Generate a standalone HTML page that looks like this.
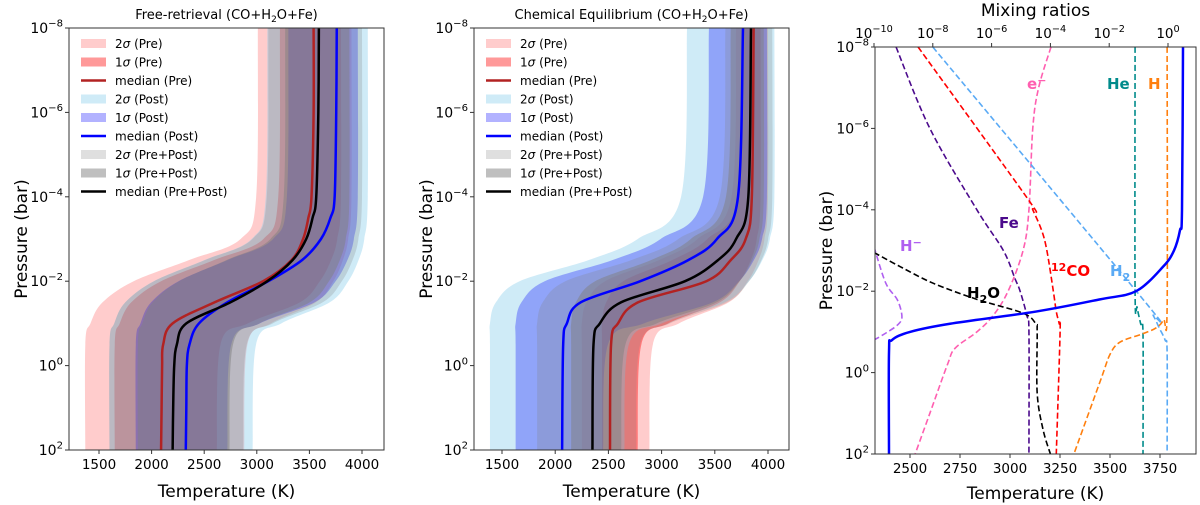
<!DOCTYPE html>
<html><head><meta charset="utf-8"><style>
html,body{margin:0;padding:0;background:#fff;}
svg{display:block;font-family:"DejaVu Sans","Liberation Sans",sans-serif;}
</style></head><body>
<svg id="chart" width="1200" height="505" viewBox="0 0 1200 505" xmlns="http://www.w3.org/2000/svg"></svg>
<script>
// ---------- Panel 1 data (Free-retrieval) ----------
const bandP = [-8,-4,-3,-2.5,-2,-1.5,-1,-0.5,2];
const p1Pre2Lo = [3010,2994,2846,2354,1829,1534,1419,1370,1370];
const p1Pre2Hi = [3900,3900,3869,3818,3727,3563,3135,2911,2880];
const p1Pre1Lo = [3220,3204,3063,2592,2090,1807,1697,1650,1650];
const p1Pre1Hi = [3800,3800,3765,3706,3599,3411,2915,2655,2620];
const p1Post2Lo = [3100,3085,2950,2500,2020,1750,1645,1600,1600];
const p1Post2Hi = [4055,4055,4022,3967,3869,3694,3234,2993,2960];
const p1Post1Lo = [3300,3286,3155,2720,2256,1995,1894,1850,1850];
const p1Post1Hi = [3960,3960,3923,3861,3749,3551,3030,2757,2720];
const p1PP2Lo = [3110,3095,2959,2506,2023,1751,1645,1600,1600];
const p1PP2Hi = [4000,4000,3966,3910,3808,3627,3153,2904,2870];
const p1PP1Lo = [3270,3256,3130,2710,2262,2010,1912,1870,1870];
const p1PP1Hi = [3880,3880,3846,3789,3686,3504,3025,2774,2740];
const medP1 = [-8,-6,-4,-3.5,-3,-2.5,-2,-1.5,-1,-0.5,0,1,2];
const p1MedPre = [3540,3540,3520,3490,3440,3330,3060,2600,2200,2110,2100,2095,2090];
const p1MedPost = [3760,3755,3740,3700,3610,3430,3110,2720,2450,2360,2335,2330,2325];
const p1MedPP = [3590,3585,3565,3530,3470,3340,3100,2750,2330,2240,2215,2205,2200];
// ---------- Panel 2 data (Chemical equilibrium) ----------
const p2Pre2Lo = [3700,3657,3338,2975,2468,2294,2250,2250,2250];
const p2Pre2Hi = [4000,4000,3967,3911,3810,3632,3164,2918,2885];
const p2Pre1Lo = [3760,3720,3430,3100,2638,2480,2440,2440,2440];
const p2Pre1Hi = [3930,3930,3895,3838,3734,3549,3064,2810,2775];
const p2Post2Lo = [3239,3183,2776,2313,1665,1443,1387,1387,1387];
const p2Post2Hi = [4060,4060,4018,3947,3820,3595,3003,2692,2650];
const p2Post1Lo = [3445,3390,2991,2537,1901,1683,1628,1628,1628];
const p2Post1Hi = [3990,3990,3944,3867,3728,3482,2835,2496,2450];
const p2PP2Lo = [3600,3547,3158,2715,2096,1883,1830,1830,1830];
const p2PP2Hi = [4040,4040,4002,3938,3822,3618,3080,2798,2760];
const p2PP1Lo = [3650,3605,3275,2900,2375,2195,2150,2150,2150];
const p2PP1Hi = [3960,3960,3920,3853,3732,3518,2955,2660,2620];
const medP2 = [-8,-4,-3,-2.5,-2,-1.5,-1,-0.5,2];
const p2MedPost = [3765,3718,3520,3250,2800,2240,2110,2075,2065];
const p2MedPP = [3840,3815,3700,3530,3220,2620,2420,2360,2350];
const p2MedPre = [3865,3848,3790,3650,3420,2780,2590,2525,2515];
// ---------- Panel 3 data ----------
const tpP = [-8,-4,-3.5,-3,-2.6,-2,-1.8,-1.5,-1.2,-1,-0.8,-0.5,2];
const tpT = [3865,3860,3850,3820,3765,3630,3450,3130,2700,2500,2410,2395,2395];
const feP = [-8,-6,-4,-3,-2.3,-2,-1.4,-1,2];
const feX = [-9.25,-8.1,-6.5,-5.6,-5.2,-5.03,-4.8,-4.73,-4.73];
const coP = [-8,-4.3,-4,-3.5,-3,-2,-1.5,-1.2,-1,2];
const coX = [-8.5,-4.8,-4.6,-4.3,-4.12,-3.9,-3.8,-3.7,-3.67,-3.8];
const h2P = [-8,-1.8,-1.4,-1.1,-0.8,-0.5,2];
const h2X = [-8,-0.85,-0.5,-0.3,-0.1,-0.03,-0.03];
const eP = [-8,-7,-6,-4,-3,-2,-1.4,-1,-0.6,-0.2,1,2];
const eX = [-3.98,-4.4,-4.6,-4.73,-4.93,-5.44,-5.95,-6.5,-7.24,-7.5,-8.1,-8.6];
const heP = [-8,-2,-1.6,-1.2,-0.95,2];
const heX = [-1.12,-1.12,-1.05,-0.93,-0.85,-0.85];
const hP = [-8,-1.6,-1.3,-1.1,-0.95,-0.75,-0.45,0.2,2];
const hX = [-0.03,-0.03,-0.15,-0.4,-0.88,-1.63,-1.97,-2.3,-3.2];
const h2oP = [-2.95,-2.6,-2.2,-1.8,-1.46,-1.2,-1,0.5,1.4,2];
const h2oX = [-10,-9.1,-8,-6.5,-4.93,-4.5,-4.45,-4.45,-4.25,-4.0];
const hmP = [-3.09,-2.2,-1.78,-1.37,-1.17,-0.97,-0.8];
const hmX = [-10,-9.6,-9.2,-9.05,-9.2,-9.6,-10];
const tTicks12 = [1500,2000,2500,3000,3500,4000];
const tTicks3 = [2500,2750,3000,3250,3500,3750];
const pTicks = [-8,-6,-4,-2,0,2];
const xTopTicks = [-10,-8,-6,-4,-2,0];

const NS = "http://www.w3.org/2000/svg";
const svg = document.getElementById('chart');
function el(tag, attrs, parent, text){
  const e = document.createElementNS(NS, tag);
  for (const k in attrs) e.setAttribute(k, attrs[k]);
  if (text !== undefined) e.textContent = text;
  (parent || svg).appendChild(e);
  return e;
}
function crPath(pts, move){
  let d = (move ? "M" : "L") + pts[0][0].toFixed(2) + "," + pts[0][1].toFixed(2);
  for (let i = 0; i < pts.length - 1; i++){
    const p0 = pts[Math.max(i-1,0)], p1 = pts[i], p2 = pts[i+1], p3 = pts[Math.min(i+2,pts.length-1)];
    const c1 = [p1[0] + (p2[0]-p0[0])/6, p1[1] + (p2[1]-p0[1])/6];
    const c2 = [p2[0] - (p3[0]-p1[0])/6, p2[1] - (p3[1]-p1[1])/6];
    d += "C" + c1[0].toFixed(2) + "," + c1[1].toFixed(2) + " " + c2[0].toFixed(2) + "," + c2[1].toFixed(2) + " " + p2[0].toFixed(2) + "," + p2[1].toFixed(2);
  }
  return d;
}
function supTen(parent, x, y, exp, anchor, size){
  const t = el('text', {x:x, y:y, 'text-anchor':anchor, 'font-size':size, fill:'#000'}, parent);
  const a = document.createElementNS(NS,'tspan'); a.textContent = '10'; t.appendChild(a);
  const b = document.createElementNS(NS,'tspan'); b.setAttribute('dy', -size*0.45); b.setAttribute('font-size', size*0.72);
  b.textContent = exp < 0 ? '\u2212' + (-exp) : String(exp); t.appendChild(b);
  return t;
}

function tpPanel(cfg){
  const g = el('g', {});
  
  
  const X = T => cfg.x0 + (T - cfg.t0) * cfg.sx;
  const Y = p => cfg.top + (p + 8) * cfg.sy;
  const clipId = cfg.name + '-clip';
  const cp = el('clipPath', {id: clipId}, g);
  el('rect', {x: cfg.left, y: cfg.top, width: cfg.right - cfg.left, height: cfg.bottom - cfg.top}, cp);
  const plot = el('g', {'clip-path': 'url(#' + clipId + ')'}, g);
  
  
  cfg.bands.forEach(b => {
    const lo = b.lo.map((T,i) => [X(T), Y(bandP[i])]);
    const hi = b.hi.map((T,i) => [X(T), Y(bandP[i])]).reverse();
    const path = el('path', {d: crPath(lo, true) + crPath(hi, false) + 'Z', fill: b.color, stroke: 'none'}, plot);
    
    
  });
  cfg.lines.forEach(l => {
    const pts = l.T.map((T,i) => [X(T), Y(l.P[i])]);
    const path = el('path', {d: crPath(pts, true), fill: 'none', stroke: l.color, 'stroke-width': 2.5}, plot);
    
    
  });
  const frame = el('rect', {x: cfg.left, y: cfg.top, width: cfg.right - cfg.left, height: cfg.bottom - cfg.top, fill: 'none', stroke: '#333', 'stroke-width': 1}, g);
  
  
  tTicks12.forEach(t => {
    el('line', {x1: X(t), x2: X(t), y1: cfg.bottom, y2: cfg.bottom + 4, stroke: '#333'}, g);
    const tl = el('text', {x: X(t), y: cfg.bottom + 19, 'text-anchor': 'middle', 'font-size': 13.5}, g, String(t));
    
    
  });
  pTicks.forEach(p => {
    el('line', {x1: cfg.left - 4, x2: cfg.left, y1: Y(p), y2: Y(p), stroke: '#333'}, g);
    const tl = supTen(g, cfg.left - 6, Y(p) + 5, p, 'end', 14);
    
    
  });
  const xt = el('text', {x: (cfg.left + cfg.right)/2, y: 497, 'text-anchor': 'middle', 'font-size': 17}, g, 'Temperature (K)');
  
  
  const yt = el('text', {x: 0, y: 0, 'text-anchor': 'middle', 'font-size': 17, transform: 'translate(' + cfg.ylabX + ',' + ((cfg.top + cfg.bottom)/2) + ') rotate(-90)'}, g, 'Pressure (bar)');
  
  
  const ti = el('text', {x: (cfg.left + cfg.right)/2, y: 19, 'text-anchor': 'middle', 'font-size': 13}, g);
  
  
  const s1 = document.createElementNS(NS,'tspan'); s1.textContent = cfg.title + ' (CO+H'; ti.appendChild(s1);
  const s2 = document.createElementNS(NS,'tspan'); s2.setAttribute('font-size', 9); s2.setAttribute('dy', 3); s2.textContent = '2'; ti.appendChild(s2);
  const s3 = document.createElementNS(NS,'tspan'); s3.setAttribute('dy', -3); s3.textContent = 'O+Fe)'; ti.appendChild(s3);
  const lg = el('g', {}, g);
  
  
  const entries = [
    ['2σ (Pre)', 'rgba(255,0,0,0.2)', 'patch'], ['1σ (Pre)', 'rgba(255,0,0,0.4)', 'patch'], ['median (Pre)', '#b22222', 'line'],
    ['2σ (Post)', 'rgba(135,206,235,0.4)', 'patch'], ['1σ (Post)', 'rgba(0,0,255,0.3)', 'patch'], ['median (Post)', '#0000ff', 'line'],
    ['2σ (Pre+Post)', 'rgba(128,128,128,0.25)', 'patch'], ['1σ (Pre+Post)', 'rgba(128,128,128,0.5)', 'patch'], ['median (Pre+Post)', '#000', 'line']];
  entries.forEach((e, i) => {
    const yy = 43.5 + i * 18.5;
    const eg = el('g', {}, lg);
    
    
    if (e[2] === 'patch') el('rect', {x: cfg.left + 12, y: yy - 4.5, width: 25, height: 9, fill: e[1]}, eg);
    else el('line', {x1: cfg.left + 12, x2: cfg.left + 37, y1: yy, y2: yy, stroke: e[1], 'stroke-width': 2.5}, eg);
    const parts = e[0].split('σ');
    const tx = el('text', {x: cfg.left + 46, y: yy + 4.5, 'font-size': 12}, eg);
    if (parts.length > 1){
      const a = document.createElementNS(NS,'tspan'); a.textContent = parts[0]; tx.appendChild(a);
      const b = document.createElementNS(NS,'tspan'); b.setAttribute('font-style','italic'); b.textContent = 'σ'; tx.appendChild(b);
      const c = document.createElementNS(NS,'tspan'); c.textContent = parts[1]; tx.appendChild(c);
    } else tx.textContent = e[0];
  });
}

const bandColors = ['rgba(255,0,0,0.2)','rgba(255,0,0,0.4)','rgba(135,206,235,0.4)','rgba(0,0,255,0.3)','rgba(128,128,128,0.25)','rgba(128,128,128,0.5)'];
tpPanel({name: 'panel-free-retrieval', title: 'Free-retrieval', left: 69, right: 384, top: 28, bottom: 450, x0: 99, t0: 1500, sx: 0.1052, sy: 42.2, ylabX: 27,
  bands: [
    {id:'band-2sigma-pre', lo:p1Pre2Lo, hi:p1Pre2Hi, color:bandColors[0]},
    {id:'band-1sigma-pre', lo:p1Pre1Lo, hi:p1Pre1Hi, color:bandColors[1]},
    {id:'band-2sigma-post', lo:p1Post2Lo, hi:p1Post2Hi, color:bandColors[2]},
    {id:'band-1sigma-post', lo:p1Post1Lo, hi:p1Post1Hi, color:bandColors[3]},
    {id:'band-2sigma-prepost', lo:p1PP2Lo, hi:p1PP2Hi, color:bandColors[4]},
    {id:'band-1sigma-prepost', lo:p1PP1Lo, hi:p1PP1Hi, color:bandColors[5]}],
  lines: [
    {id:'median-pre', P:medP1, T:p1MedPre, color:'#b22222'},
    {id:'median-post', P:medP1, T:p1MedPost, color:'#0000ff'},
    {id:'median-prepost', P:medP1, T:p1MedPP, color:'#000'}]});
tpPanel({name: 'panel-chemical-equilibrium', title: 'Chemical Equilibrium', left: 474, right: 789, top: 28, bottom: 450, x0: 502, t0: 1500, sx: 0.1064, sy: 42.2, ylabX: 432,
  bands: [
    {id:'band-2sigma-pre', lo:p2Pre2Lo, hi:p2Pre2Hi, color:bandColors[0]},
    {id:'band-1sigma-pre', lo:p2Pre1Lo, hi:p2Pre1Hi, color:bandColors[1]},
    {id:'band-2sigma-post', lo:p2Post2Lo, hi:p2Post2Hi, color:bandColors[2]},
    {id:'band-1sigma-post', lo:p2Post1Lo, hi:p2Post1Hi, color:bandColors[3]},
    {id:'band-2sigma-prepost', lo:p2PP2Lo, hi:p2PP2Hi, color:bandColors[4]},
    {id:'band-1sigma-prepost', lo:p2PP1Lo, hi:p2PP1Hi, color:bandColors[5]}],
  lines: [
    {id:'median-pre', P:medP2, T:p2MedPre, color:'#b22222'},
    {id:'median-post', P:medP2, T:p2MedPost, color:'#0000ff'},
    {id:'median-prepost', P:medP2, T:p2MedPP, color:'#000'}]});

// ---------- Panel 3 ----------
(function(){
  const L = 875, R = 1196, T0 = 47, B = 454;
  const g = el('g', {});
  
  
  const X = t => 910 + (t - 2500) * 0.2;
  const XM = lx => 874 + (lx + 10) * 29.4;
  const Y = p => T0 + (p + 8) * 40.7;
  const cp = el('clipPath', {id: 'p3clip'}, g);
  el('rect', {x: L, y: T0, width: R - L, height: B - T0}, cp);
  const plot = el('g', {'clip-path': 'url(#p3clip)'}, g);
  
  
  const species = [
    ['line-e-minus', eP, eX, '#ff5fb0'], ['line-fe', feP, feX, '#4b0a8c'], ['line-12co', coP, coX, '#ff0000'],
    ['line-h2', h2P, h2X, '#5aaaf5'], ['line-he', heP, heX, '#008b8b'], ['line-h', hP, hX, '#ff7f0e'],
    ['line-h2o', h2oP, h2oX, '#000'], ['line-h-minus', hmP, hmX, '#b060f0']];
  species.forEach(s => {
    const pts = s[2].map((v,i) => [XM(v), Y(s[1][i])]);
    const path = el('path', {d: crPath(pts, true), fill: 'none', stroke: s[3], 'stroke-width': 1.6, 'stroke-dasharray': '6,3'}, plot);
    
    
  });
  const tp = el('path', {d: crPath(tpT.map((t,i) => [X(t), Y(tpP[i])]), true), fill: 'none', stroke: '#0000ff', 'stroke-width': 2.5}, plot);
  
  
  const labels = [
    ['label-e-minus', 1027, 89, '#ff5fb0', [['e',0],['\u2212',-1]]],
    ['label-he', 1107, 89, '#008b8b', [['He',0]]],
    ['label-h', 1148, 89, '#ff7f0e', [['H',0]]],
    ['label-fe', 999, 228, '#4b0a8c', [['Fe',0]]],
    ['label-h-minus', 900, 251, '#b060f0', [['H',0],['\u2212',-1]]],
    ['label-12co', 1051, 276, '#ff0000', [['12',-1],['CO',0]]],
    ['label-h2', 1110, 276, '#5aaaf5', [['H',0],['2',1]]],
    ['label-h2o', 967, 298, '#000', [['H',0],['2',1],['O',0]]]];
  labels.forEach(l => {
    const t = el('text', {x: l[1], y: l[2], fill: l[3], 'font-size': 15, 'font-weight': 'bold'}, g);
    
    
    let prev = 0;
    l[4].forEach(part => {
      const s = document.createElementNS(NS, 'tspan');
      const off = part[1] * 5;
      s.setAttribute('dy', off - prev); prev = off;
      if (part[1] !== 0) s.setAttribute('font-size', 11);
      s.textContent = part[0];
      t.appendChild(s);
    });
  });
  const frame = el('rect', {x: L, y: T0, width: R - L, height: B - T0, fill: 'none', stroke: '#333'}, g);
  
  
  tTicks3.forEach(t => {
    el('line', {x1: X(t), x2: X(t), y1: B, y2: B + 4, stroke: '#333'}, g);
    const tl = el('text', {x: X(t), y: B + 19, 'text-anchor': 'middle', 'font-size': 13.5}, g, String(t));
    
    
  });
  xTopTicks.forEach(v => {
    el('line', {x1: XM(v), x2: XM(v), y1: T0 - 4, y2: T0, stroke: '#333'}, g);
    const tl = supTen(g, XM(v), 38, v, 'middle', 13.5);
    
    
  });
  pTicks.forEach(p => {
    el('line', {x1: L - 4, x2: L, y1: Y(p), y2: Y(p), stroke: '#333'}, g);
    const tl = supTen(g, L - 6, Y(p) + 5, p, 'end', 14);
    
    
  });
  const xt = el('text', {x: (L + R)/2, y: 499, 'text-anchor': 'middle', 'font-size': 17}, g, 'Temperature (K)');
  
  
  const tt = el('text', {x: (L + R)/2, y: 16, 'text-anchor': 'middle', 'font-size': 17}, g, 'Mixing ratios');
  
  
  const yt = el('text', {x: 0, y: 0, 'text-anchor': 'middle', 'font-size': 17, transform: 'translate(832,' + ((T0 + B)/2) + ') rotate(-90)'}, g, 'Pressure (bar)');
  
  
})();
</script>
</body></html>
